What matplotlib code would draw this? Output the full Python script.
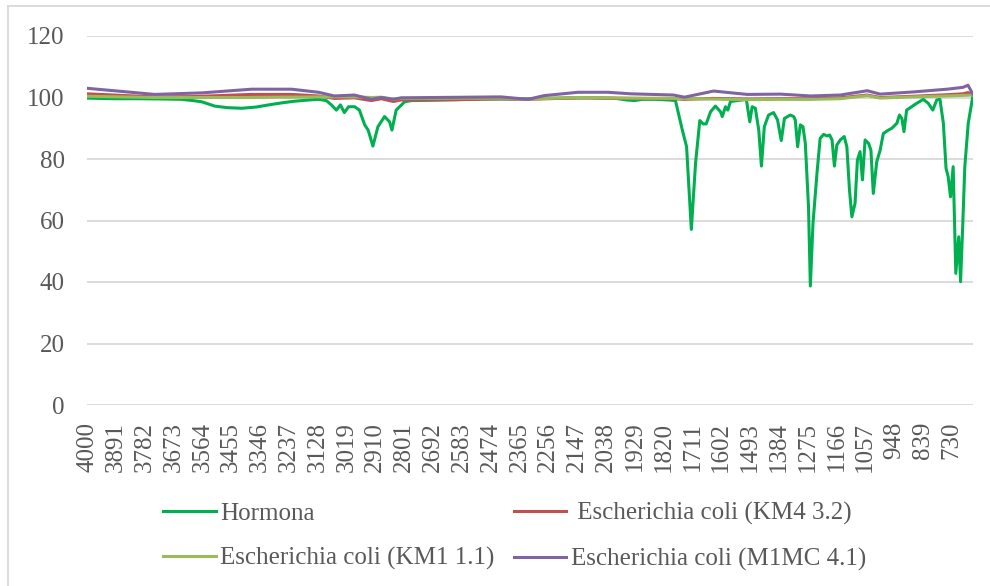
import matplotlib.pyplot as plt
from matplotlib.lines import Line2D

# Hormona (wavenumber, transmittance)
hormona_wn = [4000, 3900, 3800, 3700, 3642, 3600, 3566, 3517, 3470, 3415, 3360, 3313,
              3260, 3215, 3160, 3125, 3095, 3076, 3057, 3042, 3027, 3011, 2988, 2970,
              2950, 2937, 2919, 2900, 2875, 2856, 2847, 2831, 2799, 2774, 2700, 2600,
              2500, 2400, 2300, 2200, 2100, 2000, 1960, 1930, 1900, 1850, 1800, 1775,
              1749, 1733, 1715, 1699, 1683, 1670, 1659, 1642, 1624, 1605, 1598, 1586,
              1577, 1567, 1507, 1494, 1485, 1473, 1460, 1450, 1439, 1423, 1404, 1389,
              1375, 1363, 1341, 1328, 1322, 1313, 1303, 1293, 1284, 1272, 1265, 1255,
              1240, 1228, 1215, 1202, 1192, 1183, 1174, 1165, 1152, 1137, 1127, 1117,
              1108, 1096, 1087, 1077, 1068, 1058, 1045, 1036, 1027, 1014, 1001, 989,
              970, 957, 938, 928, 919, 911, 901, 882, 863, 838, 819, 802, 787, 775,
              762, 752, 744, 735, 725, 715, 704, 697, 689, 681, 668, 650]
hormona_t = [99.8, 99.6, 99.6, 99.5, 99.4, 99.0, 98.6, 97.2, 96.7, 96.5, 96.9, 97.6,
             98.3, 98.8, 99.2, 99.4, 99.0, 97.6, 95.9, 97.6, 95.1, 97.0, 97.0, 95.9,
             91.1, 89.4, 84.2, 90.5, 93.8, 92.1, 89.4, 95.9, 98.6, 99.0, 99.1, 99.3,
             99.5, 99.5, 99.7, 99.8, 99.9, 99.7, 99.2, 99.0, 99.4, 99.4, 99.2, 99.0,
             89.4, 84.0, 57.1, 78.7, 92.5, 91.4, 91.4, 95.4, 97.2, 95.4, 93.8, 97.0,
             95.9, 98.7, 99.4, 92.1, 97.0, 96.5, 89.4, 77.7, 90.5, 94.3, 95.1, 92.7,
             86.0, 93.2, 94.3, 93.8, 92.7, 84.0, 91.1, 90.5, 85.1, 64.5, 38.7, 59.1,
             75.3, 86.7, 88.0, 87.5, 87.8, 86.2, 77.7, 84.5, 86.2, 87.3, 84.0, 69.9,
             61.2, 65.6, 79.7, 82.4, 73.2, 86.2, 85.1, 82.9, 68.8, 79.1, 82.9, 88.3,
             89.4, 90.0, 91.6, 94.3, 93.2, 88.9, 95.9, 97.0, 98.1, 99.4, 98.1, 95.9,
             99.2, 99.4, 91.6, 77.0, 74.3, 67.7, 77.5, 42.8, 54.7, 40.1, 58.0, 77.5,
             91.6, 100.8]

km4_wn = [4000, 3900, 3744, 3600, 3378, 3227, 3125, 3065, 2989, 2925, 2887, 2842,
          2812, 2600, 2435, 2333, 2144, 1944, 1782, 1741, 1631, 1503, 1378, 1265,
          1152, 1050, 1001, 877, 748, 688, 669, 650]
km4_t = [101.2, 100.8, 100.2, 100.3, 101.0, 101.0, 100.5, 99.7, 99.9, 99.0, 99.6, 98.7,
         99.2, 99.3, 99.6, 99.4, 99.9, 99.7, 99.6, 99.4, 99.7, 99.5, 99.6, 99.6,
         99.9, 100.8, 100.0, 100.4, 100.9, 101.2, 101.6, 101.0]

km1_wn = [4000, 3744, 3378, 3125, 2989, 2925, 2887, 2842, 2812, 2435, 2333, 2144,
          1944, 1782, 1503, 1378, 1265, 1152, 1050, 1001, 877, 748, 650]
km1_t = [100.4, 100.0, 100.0, 100.2, 100.2, 100.0, 100.1, 99.5, 99.7, 99.8, 99.5, 100.0,
         99.8, 99.7, 99.3, 99.4, 99.4, 99.6, 100.6, 99.8, 100.2, 100.5, 100.8]

m1mc_wn = [4000, 3744, 3566, 3378, 3227, 3125, 3065, 2989, 2925, 2887, 2842, 2812,
           2435, 2333, 2272, 2144, 2031, 1944, 1782, 1741, 1631, 1503, 1378, 1265,
           1152, 1050, 1001, 877, 748, 688, 669, 650]
m1mc_t = [103.0, 101.0, 101.5, 102.7, 102.7, 101.7, 100.5, 100.8, 99.4, 100.0, 99.4, 99.9,
          100.2, 99.4, 100.6, 101.7, 101.7, 101.2, 100.8, 100.1, 102.1, 101.0, 101.1, 100.5,
          100.8, 102.2, 101.1, 101.8, 102.7, 103.3, 104.0, 101.0]

x_ticks = list(range(4000, 700, -109))
y_ticks = [0, 20, 40, 60, 80, 100, 120]

GRAY = "#595959"

plt.rcParams["font.family"] = ["Liberation Serif", "DejaVu Serif"]

fig = plt.figure(figsize=(9.9, 5.86), dpi=100)
ax = fig.add_axes([87 / 990, 1 - 405 / 586, (973 - 87) / 990, (405 - 36) / 586])

lw = 2.2
h1, = ax.plot(hormona_wn, hormona_t, color="#00B050", lw=lw, label="Hormona")
h2, = ax.plot(km4_wn, km4_t, color="#C0504D", lw=lw, label=" Escherichia coli (KM4 3.2)")
h3, = ax.plot(km1_wn, km1_t, color="#9BBB59", lw=lw, label="Escherichia coli (KM1 1.1)")
h4, = ax.plot(m1mc_wn, m1mc_t, color="#8064A2", lw=lw, label="Escherichia coli (M1MC 4.1)")

ax.set_xlim(4000, 650)
ax.set_ylim(0, 120)
ax.set_xticks(x_ticks)
ax.set_xticklabels([str(t) for t in x_ticks], rotation=90)
ax.set_yticks(y_ticks)
ax.tick_params(axis="both", length=0, labelsize=18, colors=GRAY)
ax.tick_params(axis="x", pad=12)
ax.tick_params(axis="y", pad=16)
ax.grid(axis="y", color="#D9D9D9", lw=1.3)
ax.set_axisbelow(True)
for s in ax.spines.values():
    s.set_visible(False)

# chart area border (only top and left edges visible)
fig.add_artist(Line2D([8 / 990, 8 / 990], [0, 1 - 6 / 586], color="#D9D9D9", lw=1.3))
fig.add_artist(Line2D([8 / 990, 1], [1 - 6 / 586, 1 - 6 / 586], color="#D9D9D9", lw=1.3))

leg = fig.legend([h1, h3, h2, h4], [h1.get_label(), h3.get_label(), h2.get_label(), h4.get_label()],
                 ncol=2, loc="upper left", bbox_to_anchor=(163 / 990, 1 - 502 / 586),
                 frameon=False, fontsize=18, handlelength=2.1, handletextpad=0.2,
                 columnspacing=0.75, labelspacing=0.9, borderpad=0, borderaxespad=0)
for t in leg.get_texts():
    t.set_color(GRAY)

fig.savefig("out.png", dpi=100)
